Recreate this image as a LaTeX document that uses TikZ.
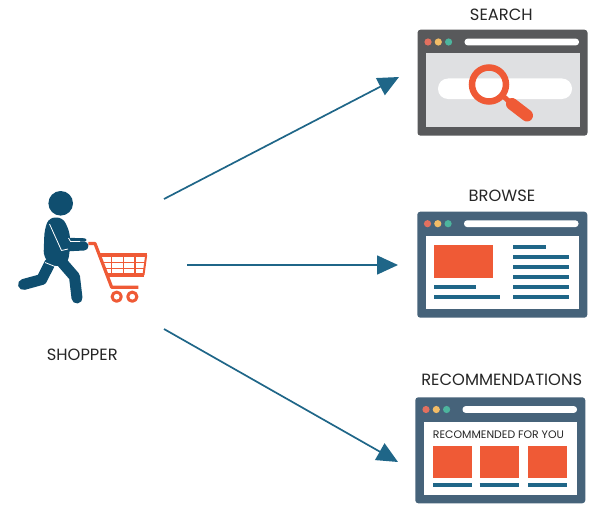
\documentclass[tikz,border=0pt]{standalone}
\usepackage{fontspec}
\usepackage{xcolor}
\setmainfont{Poppins}
\usetikzlibrary{arrows.meta}
\definecolor{teal1}{HTML}{1F6688}
\definecolor{navy1}{HTML}{0F4E6F}
\definecolor{tomato1}{HTML}{EF5A36}
\definecolor{slate1}{HTML}{46637A}
\definecolor{slate2}{HTML}{58595B}
\definecolor{page1}{HTML}{DFE0E2}
\definecolor{dotred}{HTML}{E2705F}
\definecolor{dotyel}{HTML}{F2BC67}
\definecolor{dotgrn}{HTML}{4DB59E}
\tikzset{
    flow/.style={->, >={Stealth[length=21pt,width=19pt,inset=0pt]}, teal1, line width=1.7pt},
    title/.style={font=\fontsize{16.3}{18}\selectfont, text=black!85, inner sep=0pt},
    window/.style={rectangle, rounded corners=3pt, minimum width=170pt, minimum height=106pt, inner sep=0pt},
    pane/.style={rectangle, minimum width=153.5pt, minimum height=73.5pt, inner sep=0pt},
    block/.style={rectangle, fill=tomato1, inner sep=0pt},
    txt/.style={teal1, line width=3.4pt},
    body/.style={navy1, line width=11pt, line cap=round, line join=round},
    cart/.style={tomato1, line join=round}
}
% three dots and the address bar of a window
\newcommand{\chrome}[2]{
    \fill[dotred] (#1,#2) circle (3.6);
    \fill[dotyel] (#1+10.3,#2) circle (3.6);
    \fill[dotgrn] (#1+20.6,#2) circle (3.6);
    \fill[white, rounded corners=3.2pt] (#1+36.5,#2-3.4) rectangle (#1+151,#2+3.4);
}
\begin{document}
\begin{tikzpicture}[x=1pt, y=-1pt]
    \useasboundingbox (0,0) rectangle (600,519);

    % Windows
    \node[window, fill=slate2] (search) at (502.5,82.7) {};
    \node[pane, fill=page1] (searchpane) at (503,90) {};
    \chrome{428}{42}
    \node[window, fill=slate1] (browse) at (502.3,264.7) {};
    \node[pane, fill=white] (browsepane) at (502.3,272.5) {};
    \chrome{427.5}{223.7}
    \node[window, fill=slate1] (recommend) at (500.3,450.3) {};
    \node[pane, fill=white] (recommendpane) at (500.5,458.3) {};
    \chrome{426}{409.5}

    % Titles
    \node[title] (searchtitle) at (501.3,15) {SEARCH};
    \node[title] (browsetitle) at (502,195.5) {BROWSE};
    \node[title] (recommendtitle) at (501.7,380) {RECOMMENDATIONS};
    \node[title] (shoppertitle) at (82.3,355) {SHOPPER};

    % Search window content
    \fill[white, rounded corners=10pt] (438,78.5) rectangle (572,99);
    \draw[tomato1, line width=12pt, line cap=round] (512,104) -- (527,115.5);
    \draw[tomato1, line width=5pt] (503,96) -- (512,104);
    \draw[tomato1, line width=6.5pt] (489,84.5) circle (17);

    % Browse window content
    \node[block, minimum width=59pt, minimum height=32.5pt] (hero) at (463.5,261.3) {};
    \draw[txt] (434,287) -- (476,287);
    \draw[txt] (434,297) -- (500,297);
    \draw[txt] (513,247) -- (546,247);
    \foreach \y in {257,267,277,287,297}
        \draw[txt] (513,\y) -- (569,\y);

    % Recommendations content
    \node[font=\fontsize{10.9}{12}\selectfont, text=black!85, inner sep=0pt] (foryou) at (498.5,435) {RECOMMENDED FOR YOU};
    \foreach \x/\n in {452.5/a,499/b,547.5/c} {
        \node[block, minimum width=39pt, minimum height=32.5pt] (item\n) at (\x,462) {};
        \draw[txt] (\x-19.5,485) -- (\x+19.5,485);
    }

    % Shopper
    \fill[navy1] (60.7,203.3) circle (12.3);
    \fill[navy1, rounded corners=6pt] (49,217.5) -- (63,217.5) -- (70,233) -- (70,250) -- (67.5,264) -- (53,267) -- (43.5,257) -- (44.5,230) -- cycle;
    \draw[body] (50,263) -- (41.7,279.5) -- (23.5,284.5);
    \draw[body] (60,260) -- (74.5,276.7) -- (77,298);
    \draw[navy1, line width=3.4pt, line cap=round] (68,239.5) -- (85,240);
    \draw[body, line width=9pt] (64,247) -- (84,246);
    \draw[white, line width=.8pt, line join=round] (49.5,224) -- (61.5,250.5) -- (68,249);
    \draw[white, line width=.8pt] (68.5,238) -- (70.5,241.5) -- (80,241.5);
    \draw[white, line width=.8pt] (45,262.5) -- (55,266.5);

    % Cart
    \draw[cart, line width=3.2pt] (88.3,243.5) -- (95,243.5) -- (111.7,287.3) -- (138.3,287.3);
    \draw[cart, line width=1.3pt] (103,262.7) -- (145.5,262.7);
    \draw[cart, line width=1.3pt] (105,268.5) -- (144.5,268.5);
    \foreach \x in {111.7,123.5,135}
        \draw[cart, line width=1.3pt] (\x,255) -- (\x,275);
    \draw[cart, line width=2pt] (146.2,255) -- (143.5,275);
    \draw[cart, line width=4pt] (99.5,255.3) -- (147,255.3);
    \draw[cart, line width=4pt] (106,274.8) -- (144,274.8);
    \draw[cart, line width=3pt] (116.7,296.7) circle (4.6);
    \draw[cart, line width=3pt] (132.3,296.7) circle (4.6);

    % Arrows
    \coordinate (fromtop) at (164,199);
    \coordinate (frommid) at (187,265);
    \coordinate (frombot) at (164,329);
    \coordinate (tosearch) at (399,77);
    \coordinate (tobrowse) at (398,265);
    \coordinate (torecommend) at (398,462);
    \draw[flow] (fromtop) -- (tosearch);
    \draw[flow] (frommid) -- (tobrowse);
    \draw[flow] (frombot) -- (torecommend);
\end{tikzpicture}
\end{document}
